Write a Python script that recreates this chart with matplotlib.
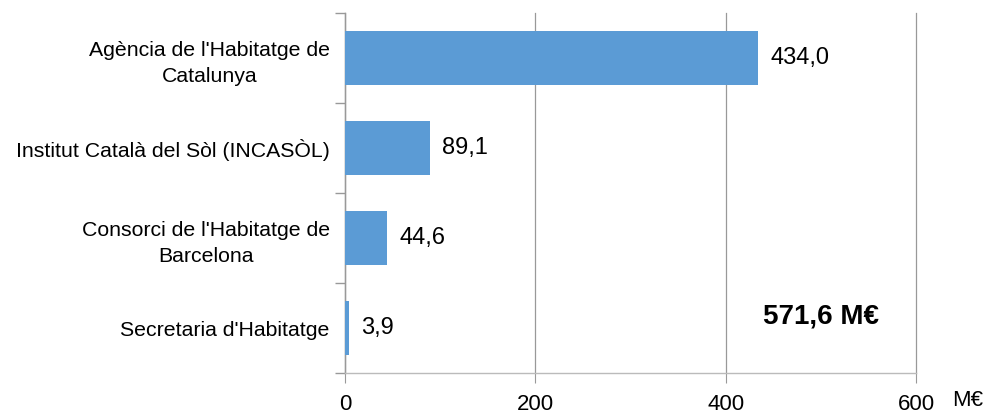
import matplotlib
matplotlib.use("Agg")
import matplotlib.pyplot as plt
import numpy as np

plt.rcParams['font.family'] = ['Liberation Sans', 'DejaVu Sans']

categories = ["Agència de l'Habitatge de\nCatalunya",
              "Institut Català del Sòl (INCASÒL)",
              "Consorci de l'Habitatge de\nBarcelona",
              "Secretaria d'Habitatge"]
values = [434.0, 89.1, 44.6, 3.9]
value_labels = ["434,0", "89,1", "44,6", "3,9"]
xticks = [0, 200, 400, 600]
total_label = "571,6 M€"
unit_label = "M€"

fig = plt.figure(figsize=(9.9, 4.13), dpi=100)
ax = fig.add_axes([345/990, 1-373/413, 571/990, 360/413])

n = len(categories)
ypos = np.arange(n)[::-1]
ax.barh(ypos, values, height=0.6, color='#5B9BD5', zorder=3)
ax.set_ylim(-0.5, n - 0.5)
ax.set_xlim(0, 600)

for y, v, lab in zip(ypos, values, value_labels):
    ax.text(v + 12*600/571, y, lab, va='center', ha='left', fontsize=17, color='#000000', zorder=4)

ax.set_xticks(xticks)
ax.set_xticklabels([str(t) for t in xticks], fontsize=16)
ax.xaxis.grid(True, color='#999999', linewidth=0.9, zorder=0)
for gl in ax.get_xgridlines():
    gl.set_clip_on(False)
ax.tick_params(axis='x', length=7, color='#999999', pad=8, labelcolor='#000000')

ax.set_yticks(ypos)
ax.set_yticklabels(categories, fontsize=15.3, multialignment='center', linespacing=1.45)
ax.tick_params(axis='y', which='major', length=0, pad=11)
ax.set_yticks(np.arange(-0.5, n, 1.0), minor=True)
ax.tick_params(axis='y', which='minor', length=7, color='#999999', width=1)

for s in ['top', 'right']:
    ax.spines[s].set_visible(False)
ax.spines['left'].set_color('#999999')
ax.spines['left'].set_linewidth(1)
ax.spines['bottom'].set_color('#bbbbbb')
ax.spines['bottom'].set_linewidth(1)

ax.text((821-345)/571, (373-317)/360, total_label, transform=ax.transAxes,
        ha='center', va='center', fontsize=20, fontweight='bold')
fig.text(968/990, 1-401/413, unit_label, ha='center', va='center', fontsize=16)

fig.savefig('out.png', dpi=100)
